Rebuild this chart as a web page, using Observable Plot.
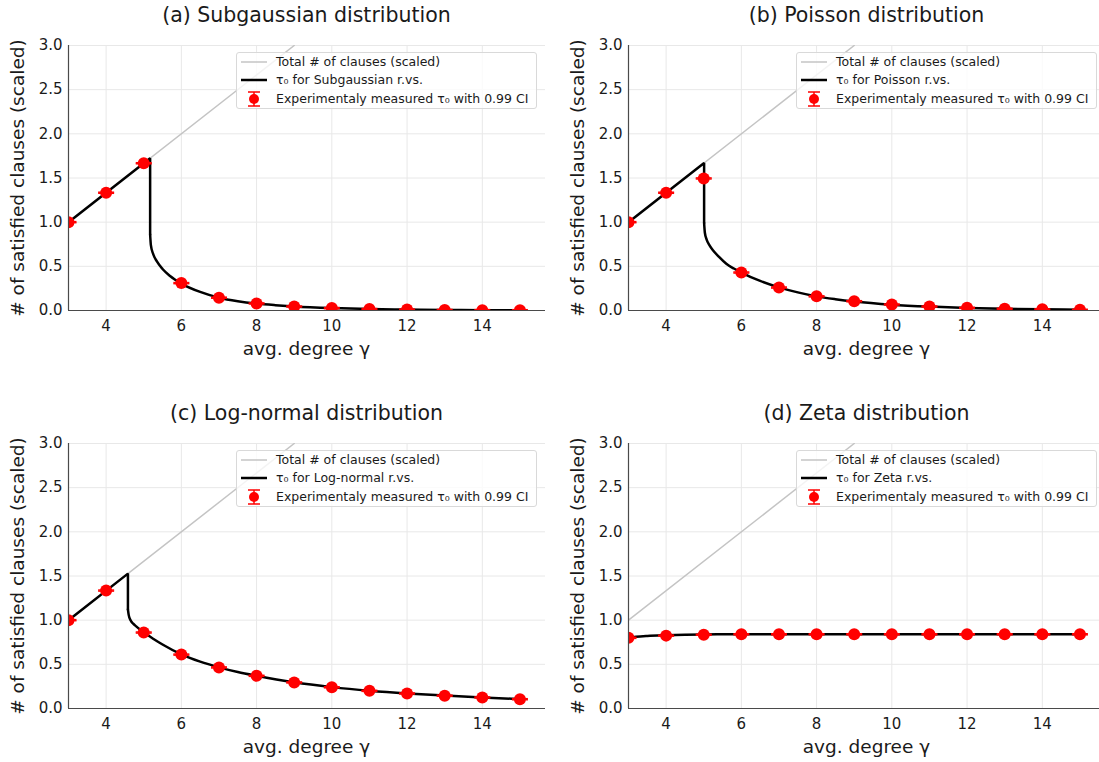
<!DOCTYPE html>
<html>
<head>
<meta charset="utf-8">
<script src="https://cdn.jsdelivr.net/npm/d3@7"></script>
<script src="https://cdn.jsdelivr.net/npm/@observablehq/plot@0.6"></script>
<style>
  html, body { margin: 0; padding: 0; background: #fff; overflow: hidden; }
  #fig { position: relative; width: 1099px; height: 762px; overflow: hidden; font-family: "DejaVu Sans", sans-serif; color: #1a1a1a; }
  .panel { position: absolute; width: 550px; height: 380px; }
  .panel svg { position: absolute; left: 0; top: 0; }
  .title { position: absolute; left: 68px; width: 477px; top: 3px; line-height: 24px; text-align: center; font-size: 20.5px; white-space: nowrap; }
  .xlabel { position: absolute; left: 68px; width: 477px; top: 338px; line-height: 22px; text-align: center; font-size: 18.5px; white-space: nowrap; }
  .ylabel { position: absolute; left: 18px; top: 178px; font-size: 18.5px; white-space: nowrap; transform: translate(-50%, -50%) rotate(-90deg); line-height: 22px; }
  .legend { position: absolute; left: 236px; top: 52px; width: 301px; height: 57px; box-sizing: border-box; border: 1px solid #d9d9d9; border-radius: 3px; background: rgba(255,255,255,0.8); font-size: 12.5px; }
  .legend .row { position: absolute; left: 0; height: 18px; width: 100%; }
  .legend .row span { position: absolute; left: 39px; top: 0; line-height: 18px; white-space: nowrap; }
  .legend .row svg { position: absolute; left: 3px; top: 0; }
</style>
</head>
<body>
<div id="fig"></div>
<script>
// ---------------- data ----------------
const gammaMeasured = [3, 4, 5, 6, 7, 8, 9, 10, 11, 12, 13, 14, 15];
const ciHalfWidth = 0.006;

// gray line: total number of clauses (scaled)
const totalX = [3, 9];
const totalY = [1.0, 3.0];

// (a) Subgaussian
const subRiseX = [3, 5.17];
const subRiseY = [1.0, 1.723];
const subTailX = [5.17, 5.19, 5.25, 5.35, 5.5, 5.7, 6, 6.5, 7, 7.5, 8, 8.5, 9, 10, 11, 12, 13, 14, 15];
const subTailY = [0.86, 0.74, 0.64, 0.555, 0.47, 0.39, 0.305, 0.21, 0.145, 0.105, 0.078, 0.06, 0.046, 0.028, 0.017, 0.011, 0.007, 0.004, 0.003];
const subMeasured = [1.0, 1.333, 1.667, 0.31, 0.145, 0.08, 0.045, 0.027, 0.016, 0.01, 0.006, 0.004, 0.003];

// (b) Poisson
const poiRiseX = [3, 5.01];
const poiRiseY = [1.0, 1.67];
const poiTailX = [5.01, 5.03, 5.08, 5.15, 5.25, 5.4, 5.6, 5.8, 6, 6.5, 7, 7.5, 8, 8.5, 9, 10, 11, 12, 13, 14, 15];
const poiTailY = [0.99, 0.88, 0.80, 0.74, 0.68, 0.61, 0.53, 0.475, 0.43, 0.335, 0.262, 0.205, 0.16, 0.128, 0.102, 0.066, 0.044, 0.029, 0.019, 0.013, 0.009];
const poiMeasured = [1.0, 1.333, 1.495, 0.43, 0.26, 0.16, 0.105, 0.068, 0.045, 0.03, 0.02, 0.013, 0.008];

// (c) Log-normal
const lnRiseX = [3, 4.58];
const lnRiseY = [1.0, 1.527];
const lnTailX = [4.58, 4.6, 4.65, 4.72, 4.8, 4.9, 5, 5.25, 5.5, 6, 6.5, 7, 7.5, 8, 9, 10, 11, 12, 13, 14, 15];
const lnTailY = [1.12, 1.06, 1.0, 0.96, 0.93, 0.895, 0.862, 0.79, 0.725, 0.613, 0.53, 0.466, 0.413, 0.37, 0.296, 0.242, 0.201, 0.17, 0.146, 0.125, 0.107];
const lnMeasured = [1.0, 1.335, 0.86, 0.61, 0.465, 0.37, 0.295, 0.24, 0.2, 0.17, 0.145, 0.125, 0.105];

// (d) Zeta
const zetaRiseX = [];
const zetaRiseY = [];
const zetaTailX = [3, 3.2, 3.5, 4, 4.5, 5, 6, 7, 8, 9, 10, 11, 12, 13, 14, 15];
const zetaTailY = [0.80, 0.812, 0.822, 0.83, 0.835, 0.838, 0.84, 0.84, 0.84, 0.84, 0.84, 0.84, 0.84, 0.84, 0.84, 0.84];
const zetaMeasured = [0.80, 0.825, 0.835, 0.84, 0.84, 0.84, 0.84, 0.84, 0.84, 0.84, 0.84, 0.84, 0.84];

const xTicks = [4, 6, 8, 10, 12, 14];
const yTicks = [0, 0.5, 1.0, 1.5, 2.0, 2.5, 3.0];

const panels = [
  {title: "(a) Subgaussian distribution", name: "Subgaussian", riseX: subRiseX, riseY: subRiseY, tailX: subTailX, tailY: subTailY, meas: subMeasured, left: 0, top: 0},
  {title: "(b) Poisson distribution", name: "Poisson", riseX: poiRiseX, riseY: poiRiseY, tailX: poiTailX, tailY: poiTailY, meas: poiMeasured, left: 560, top: 0},
  {title: "(c) Log-normal distribution", name: "Log-normal", riseX: lnRiseX, riseY: lnRiseY, tailX: lnTailX, tailY: lnTailY, meas: lnMeasured, left: 0, top: 398},
  {title: "(d) Zeta distribution", name: "Zeta", riseX: zetaRiseX, riseY: zetaRiseY, tailX: zetaTailX, tailY: zetaTailY, meas: zetaMeasured, left: 560, top: 398}
];

// ---------------- drawing ----------------
const RED = "#ff0000";
const GRAY = "#c4c4c4";
const capSymbol = {
  draw(context, size) {
    const w = Math.sqrt(size / Math.PI);
    context.moveTo(-w, 0);
    context.lineTo(w, 0);
  }
};

const fig = document.getElementById("fig");

for (const p of panels) {
  const total = totalX.map((x, i) => ({x, y: totalY[i]}));
  const head = p.riseX.length ? p.riseX.map((x, i) => ({x, y: p.riseY[i]})).concat([{x: p.tailX[0], y: p.tailY[0]}]) : [];
  const tail = p.tailX.map((x, i) => ({x, y: p.tailY[i]}));
  const meas = gammaMeasured.map((x, i) => ({x, y: p.meas[i], lo: p.meas[i] - ciHalfWidth, hi: p.meas[i] + ciHalfWidth}));

  const chart = Plot.plot({
    width: 550,
    height: 380,
    marginLeft: 68,
    marginRight: 5,
    marginTop: 45,
    marginBottom: 70,
    x: {domain: [3, 15.68]},
    y: {domain: [0, 3]},
    style: {fontFamily: "DejaVu Sans", fontSize: "15px", color: "#1a1a1a", background: "transparent", overflow: "visible"},
    marks: [
      Plot.gridX(xTicks, {stroke: "#e8e8e8", strokeOpacity: 1, strokeWidth: 1}),
      Plot.gridY(yTicks, {stroke: "#e8e8e8", strokeOpacity: 1, strokeWidth: 1}),
      Plot.axisX(xTicks, {tickSize: 0, tickPadding: 10, label: null, fontSize: 15}),
      Plot.axisY(yTicks, {tickSize: 0, tickPadding: 6, label: null, fontSize: 15, tickFormat: d3.format(".1f")}),
      Plot.line(total, {x: "x", y: "y", stroke: GRAY, strokeWidth: 1.5, clip: true}),
      Plot.line(head, {x: "x", y: "y", stroke: "#000", strokeWidth: 2.5, strokeLinejoin: "miter", clip: true}),
      Plot.line(tail, {x: "x", y: "y", stroke: "#000", strokeWidth: 2.5, curve: "monotone-x", clip: true}),
      Plot.ruleX(meas, {x: "x", y1: "lo", y2: "hi", stroke: RED, strokeWidth: 1.5, clip: true}),
      Plot.dot(meas, {x: "x", y: "lo", symbol: capSymbol, r: 8, stroke: RED, strokeWidth: 1.5, clip: true}),
      Plot.dot(meas, {x: "x", y: "hi", symbol: capSymbol, r: 8, stroke: RED, strokeWidth: 1.5, clip: true}),
      Plot.dot(meas, {x: "x", y: "y", r: 6, fill: RED, stroke: "none", clip: true}),
      Plot.ruleY([0], {stroke: "#4a4a4a", strokeWidth: 1.2}),
      Plot.ruleX([3], {stroke: "#4a4a4a", strokeWidth: 1.2})
    ]
  });

  const div = document.createElement("div");
  div.className = "panel";
  div.style.left = p.left + "px";
  div.style.top = p.top + "px";
  div.appendChild(chart);

  const t = document.createElement("div");
  t.className = "title";
  t.textContent = p.title;
  div.appendChild(t);

  const xl = document.createElement("div");
  xl.className = "xlabel";
  xl.textContent = "avg. degree γ";
  div.appendChild(xl);

  const yl = document.createElement("div");
  yl.className = "ylabel";
  yl.textContent = "# of satisfied clauses (scaled)";
  div.appendChild(yl);

  const lg = document.createElement("div");
  lg.className = "legend";
  const rows = [
    {svg: `<svg width="30" height="18"><line x1="1" y1="9" x2="27" y2="9" stroke="${GRAY}" stroke-width="1.5"/></svg>`, text: "Total # of clauses (scaled)", top: 0},
    {svg: `<svg width="30" height="18"><line x1="1" y1="9" x2="27" y2="9" stroke="#000" stroke-width="2.5"/></svg>`, text: `τ₀ for ${p.name} r.vs.`, top: 18},
    {svg: `<svg width="30" height="18"><line x1="14" y1="2" x2="14" y2="16" stroke="${RED}" stroke-width="1.5"/><line x1="8" y1="2" x2="20" y2="2" stroke="${RED}" stroke-width="1.5"/><line x1="8" y1="16" x2="20" y2="16" stroke="${RED}" stroke-width="1.5"/><circle cx="14" cy="9" r="5" fill="${RED}"/></svg>`, text: "Experimentaly measured τ₀ with 0.99 CI", top: 36.5}
  ];
  for (const r of rows) {
    const row = document.createElement("div");
    row.className = "row";
    row.style.top = r.top + "px";
    row.innerHTML = r.svg;
    const s = document.createElement("span");
    s.textContent = r.text;
    row.appendChild(s);
    lg.appendChild(row);
  }
  div.appendChild(lg);

  fig.appendChild(div);
}
</script>
</body>
</html>
